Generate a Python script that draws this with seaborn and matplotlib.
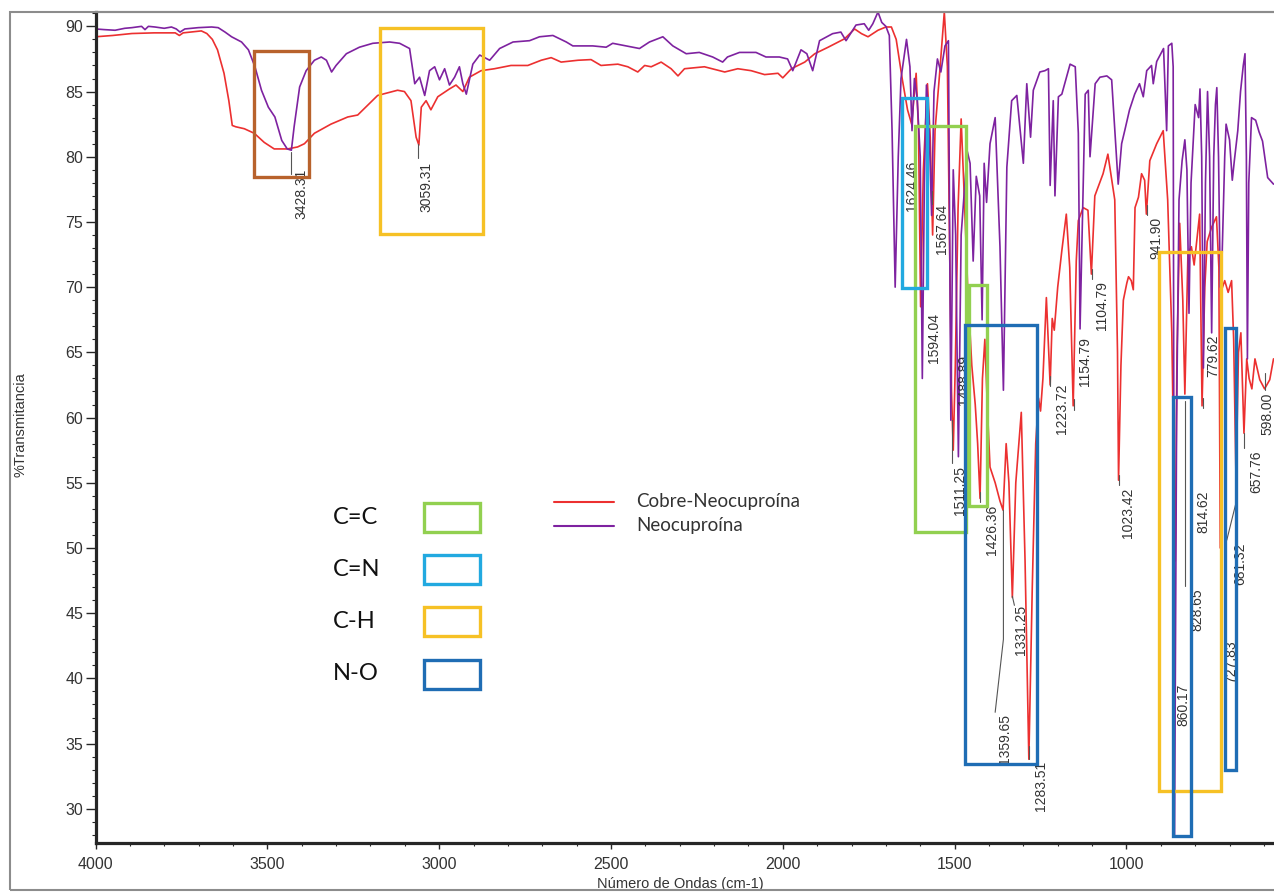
import pandas as pd
import matplotlib
matplotlib.use("Agg")
import matplotlib.pyplot as plt
from matplotlib.patches import Rectangle
from matplotlib.lines import Line2D
from matplotlib.ticker import MultipleLocator
import seaborn as sns

sns.set_theme(style="ticks")
plt.rcParams["font.family"] = ["Liberation Sans", "DejaVu Sans"]

# --- spectra: (wavenumber cm-1, %T) ---
cobre_pts = [
    (4000, 89.2), (3950, 89.3), (3894, 89.45), (3830, 89.5), (3768, 89.5), (3756, 89.3),
    (3745, 89.5), (3692, 89.65), (3676, 89.45), (3660, 89.0), (3645, 88.2), (3626, 86.4),
    (3612, 84.3), (3602, 82.4), (3592, 82.3), (3567, 82.15), (3538, 81.8), (3509, 81.1),
    (3480, 80.6), (3441, 80.6), (3412, 80.75), (3392, 81.0), (3363, 81.8), (3315, 82.5),
    (3266, 83.05), (3237, 83.2), (3179, 84.7), (3121, 85.1), (3101, 85.0), (3082, 84.3),
    (3067, 81.5), (3059, 80.9), (3052, 83.8), (3038, 84.3), (3024, 83.6), (3004, 84.6),
    (2970, 85.2), (2951, 85.5), (2931, 85.0), (2912, 86.1), (2878, 86.6), (2839, 86.75),
    (2791, 87.0), (2742, 87.0), (2703, 87.4), (2674, 87.6), (2645, 87.26), (2596, 87.4),
    (2558, 87.45), (2529, 87.0), (2480, 87.1), (2451, 86.9), (2422, 86.5), (2402, 87.0),
    (2383, 86.9), (2354, 87.26), (2325, 86.75), (2305, 86.2), (2286, 86.75), (2228, 86.9),
    (2169, 86.5), (2131, 86.75), (2092, 86.6), (2053, 86.3), (2014, 86.4), (2000, 86.05),
    (1975, 86.75), (1936, 87.26), (1907, 87.9), (1868, 88.4), (1820, 89.05), (1791, 89.8),
    (1771, 89.44), (1752, 89.2), (1723, 89.7), (1700, 89.95), (1684, 89.95), (1670, 89.0),
    (1652, 85.9), (1637, 83.6), (1625, 82.5), (1612, 86.4), (1605, 82.0), (1599, 68.5),
    (1591, 79.0), (1579, 85.6), (1571, 81.5), (1564, 74.0), (1557, 82.0), (1543, 86.6),
    (1530, 91.1), (1521, 86.9), (1515, 74.0), (1509, 62.0), (1504, 57.5), (1498, 64.0),
    (1490, 76.0), (1481, 82.9), (1472, 77.0), (1462, 70.0), (1450, 64.0), (1440, 61.0),
    (1433, 58.0), (1426, 53.8), (1419, 63.0), (1412, 66.0), (1405, 61.0), (1397, 56.2),
    (1382, 55.0), (1368, 53.6), (1359, 52.9), (1350, 58.0), (1342, 55.0), (1332, 46.2),
    (1322, 55.0), (1306, 60.4), (1295, 49.0), (1284, 33.8), (1274, 47.0), (1264, 58.0),
    (1256, 61.5), (1250, 60.5), (1243, 63.0), (1233, 69.2), (1222, 62.5), (1216, 67.6),
    (1210, 66.7), (1200, 70.0), (1188, 72.8), (1175, 75.6), (1165, 71.5), (1155, 60.9),
    (1146, 72.0), (1140, 75.1), (1126, 76.1), (1112, 75.9), (1102, 71.0), (1092, 77.0),
    (1068, 78.7), (1054, 80.2), (1034, 76.7), (1026, 65.0), (1023, 55.2), (1016, 64.0),
    (1009, 69.0), (999, 70.3), (994, 70.8), (986, 70.5), (980, 69.8), (975, 76.1),
    (965, 76.9), (956, 78.7), (947, 78.2), (942, 75.6), (932, 79.7), (912, 81.0),
    (893, 82.0), (880, 76.7), (868, 66.5), (858, 49.0), (853, 64.8), (845, 74.9),
    (836, 69.0), (830, 61.8), (821, 72.6), (811, 73.1), (803, 71.7), (787, 75.6),
    (780, 60.9), (772, 70.0), (765, 73.5), (752, 74.6), (738, 75.4), (731, 71.5),
    (727, 50.0), (723, 69.8), (714, 70.5), (704, 69.6), (694, 70.5), (688, 66.0),
    (681, 55.0), (674, 65.0), (667, 66.5), (658, 58.8), (650, 64.5), (643, 63.0),
    (635, 62.2), (626, 64.5), (612, 62.9), (598, 62.2), (583, 62.9), (572, 64.5),
]

neo_pts = [
    (4000, 89.8), (3975, 89.75), (3943, 89.7), (3915, 89.85), (3894, 89.9), (3866, 90.0),
    (3856, 89.75), (3846, 90.0), (3827, 89.95), (3800, 89.85), (3779, 89.95), (3765, 89.8),
    (3754, 89.56), (3740, 89.8), (3720, 89.85), (3701, 89.9), (3662, 89.95), (3643, 89.9),
    (3623, 89.56), (3604, 89.2), (3575, 88.8), (3555, 88.2), (3536, 86.9), (3517, 85.1),
    (3497, 83.8), (3478, 83.05), (3458, 81.25), (3442, 80.6), (3430, 80.5), (3422, 82.3),
    (3406, 85.35), (3387, 86.6), (3363, 87.4), (3343, 87.65), (3328, 87.4), (3313, 86.5),
    (3300, 87.0), (3270, 87.9), (3232, 88.4), (3193, 88.7), (3144, 88.8), (3115, 88.7),
    (3086, 88.3), (3071, 85.6), (3057, 86.1), (3042, 84.7), (3028, 86.6), (3013, 86.9),
    (2999, 85.9), (2984, 86.75), (2970, 85.5), (2955, 86.1), (2941, 86.9), (2931, 85.6),
    (2921, 84.8), (2902, 87.1), (2882, 87.8), (2853, 87.4), (2824, 88.3), (2785, 88.8),
    (2737, 88.9), (2708, 89.2), (2669, 89.3), (2630, 88.8), (2611, 88.5), (2553, 88.5),
    (2514, 88.4), (2495, 88.7), (2456, 88.5), (2417, 88.3), (2388, 88.8), (2349, 89.2),
    (2320, 88.5), (2281, 87.9), (2243, 88.0), (2204, 87.65), (2175, 87.26), (2161, 87.65),
    (2126, 88.0), (2078, 88.0), (2049, 87.65), (2010, 87.65), (1986, 87.5), (1971, 86.6),
    (1947, 88.2), (1930, 87.9), (1913, 86.6), (1893, 88.9), (1855, 89.44), (1831, 89.56),
    (1816, 88.9), (1787, 90.1), (1763, 90.2), (1750, 89.7), (1738, 90.2), (1723, 91.1),
    (1712, 90.3), (1700, 90.0), (1690, 89.3), (1682, 82.0), (1673, 70.0), (1664, 80.0),
    (1656, 86.0), (1640, 89.0), (1630, 86.9), (1624, 82.0), (1617, 86.0), (1609, 84.5),
    (1600, 80.0), (1594, 63.0), (1588, 78.0), (1582, 85.5), (1575, 83.0), (1567, 75.5),
    (1560, 85.0), (1550, 87.5), (1540, 86.5), (1528, 88.5), (1518, 88.9), (1511, 59.8),
    (1504, 79.0), (1497, 74.0), (1489, 57.0), (1481, 74.0), (1470, 78.0), (1463, 80.4),
    (1455, 79.5), (1446, 72.0), (1437, 78.5), (1427, 77.0), (1420, 67.5), (1414, 79.5),
    (1407, 76.5), (1397, 81.0), (1382, 83.0), (1368, 73.1), (1358, 62.1), (1348, 79.2),
    (1334, 84.3), (1319, 84.7), (1300, 79.5), (1290, 85.6), (1279, 81.5), (1271, 85.1),
    (1252, 86.5), (1237, 86.6), (1227, 86.75), (1222, 77.8), (1213, 84.3), (1208, 77.0),
    (1198, 84.6), (1188, 84.8), (1164, 87.1), (1149, 86.9), (1140, 81.8), (1135, 66.8),
    (1120, 84.8), (1111, 85.1), (1106, 80.0), (1091, 85.6), (1077, 86.1), (1057, 86.2),
    (1043, 85.9), (1024, 77.9), (1014, 81.0), (1005, 82.0), (991, 83.6), (976, 84.8),
    (962, 85.6), (951, 84.6), (941, 86.6), (927, 87.0), (922, 85.6), (912, 87.3),
    (892, 88.3), (883, 82.0), (878, 88.5), (868, 88.7), (864, 86.9), (860, 27.9),
    (854, 60.0), (847, 76.7), (838, 79.7), (830, 81.3), (824, 79.0), (818, 68.0),
    (812, 78.0), (800, 84.0), (790, 83.0), (786, 85.2), (781, 80.0), (776, 63.8),
    (770, 78.0), (764, 85.0), (758, 80.0), (752, 66.5), (746, 80.0), (741, 84.0),
    (737, 85.3), (732, 80.0), (727, 70.0), (722, 72.0), (714, 80.0), (710, 82.5),
    (700, 81.3), (692, 78.2), (686, 79.7), (676, 82.0), (668, 85.0), (660, 87.0),
    (655, 87.9), (651, 80.0), (648, 64.5), (644, 78.0), (636, 83.0), (624, 82.8),
    (614, 81.9), (604, 81.2), (589, 78.4), (572, 77.9),
]

# peak labels: text, x of text centre, %T of text top
peak_labels = [
    ("3428.31", 3400, 79.1), ("3059.31", 3036, 79.6), ("1624.46", 1625, 79.7),
    ("1567.64", 1538, 76.4), ("1594.04", 1561, 68.0), ("1511.25", 1484, 56.3),
    ("1488.89", 1472, 64.8), ("1426.36", 1392, 53.3), ("1359.65", 1353, 37.3),
    ("1331.25", 1308, 45.6), ("1283.51", 1250, 33.7), ("1223.72", 1188, 62.6),
    ("1154.79", 1120, 66.2), ("1104.79", 1072, 70.5), ("1023.42", 995, 54.6),
    ("941.90", 912, 75.4), ("860.17", 834, 39.6), ("828.65", 794, 46.9),
    ("814.62", 776, 54.4), ("779.62", 747, 66.4), ("727.83", 694, 42.9),
    ("681.32", 670, 50.4), ("657.76", 621, 57.5), ("598.00", 591, 61.9),
]

# leader lines from the peak to its label
leaders = [
    [(3431, 80.4), (3431, 78.7)], [(3062, 81.0), (3062, 79.9)],
    [(1567, 77.4), (1567, 76.4)], [(1508, 59.8), (1508, 56.5)],
    [(1426, 54.3), (1426, 53.5)], [(1358, 52.9), (1358, 43.0), (1382, 37.4)],
    [(1332, 46.3), (1326, 45.6)], [(1283, 34.8), (1283, 33.8)],
    [(1221, 63.2), (1221, 62.4)], [(1154, 61.4), (1154, 60.6)],
    [(1101, 71.4), (1101, 70.6)], [(1023, 55.6), (1023, 54.8)],
    [(941, 76.3), (941, 75.5)], [(830, 61.3), (830, 47.1)],
    [(778, 61.5), (778, 60.7)], [(679, 53.7), (708, 50.6)],
    [(658, 58.8), (658, 57.7)], [(598, 63.4), (598, 62.1)],
]

# highlighted regions: (wn high, wn low, %T bottom, %T top, group)
regions = [
    (3539, 3379, 78.42, 88.08, "O-H"),
    (3172, 2872, 74.1, 89.9, "C-H"),
    (1615, 1467, 51.2, 82.33, "C=C"),
    (1458, 1405, 53.19, 70.14, "C=C"),
    (1653, 1580, 69.9, 84.48, "C=N"),
    (1470, 1260, 33.4, 67.07, "N-O"),
    (905, 725, 31.4, 72.67, "C-H"),
    (864, 812, 27.9, 61.55, "N-O"),
    (713, 681, 32.95, 66.84, "N-O"),
]

group_names = ["C=C", "C=N", "C-H", "N-O"]
group_colors = {"O-H": "#b8622c", "C-H": "#f6c125", "C=C": "#92d050",
                "C=N": "#22a9e0", "N-O": "#1f6db4"}
series_names = ["Cobre-Neocuproína", "Neocuproína"]
RED = "#ec3030"
PURPLE = "#7e22a0"

W, H = 1274, 892
fig = plt.figure(figsize=(W / 100, H / 100), dpi=100)
ax = fig.add_axes([95.5 / W, 1 - 842.7 / H, 1178.5 / W, 830.7 / H])

df_cu = pd.DataFrame(cobre_pts, columns=["wn", "t"])
df_neo = pd.DataFrame(neo_pts, columns=["wn", "t"])
sns.lineplot(data=df_cu, x="wn", y="t", color=RED, lw=1.2, sort=False,
             estimator=None, ax=ax, zorder=2)
sns.lineplot(data=df_neo, x="wn", y="t", color=PURPLE, lw=1.2, sort=False,
             estimator=None, ax=ax, zorder=2.1)

ax.set_xlim(4000, 570.6)
ax.set_ylim(27.4, 91.1)
ax.xaxis.set_major_locator(MultipleLocator(500))
ax.xaxis.set_minor_locator(MultipleLocator(100))
ax.yaxis.set_major_locator(MultipleLocator(5))
ax.yaxis.set_minor_locator(MultipleLocator(1))
ax.tick_params(axis="y", which="major", length=7, width=1, labelsize=11.5,
               labelcolor="#333333", pad=2)
ax.tick_params(axis="y", which="minor", length=3, width=0.8)
ax.tick_params(axis="x", which="major", length=4, width=1, labelsize=11.5,
               labelcolor="#333333", pad=6)
ax.tick_params(axis="x", which="minor", length=2, width=0.8)
ax.spines["left"].set_linewidth(2.3)
ax.spines["bottom"].set_linewidth(2.3)
ax.spines["right"].set_visible(False)
ax.spines["top"].set_color("#8c8c8c")
ax.spines["top"].set_linewidth(1.5)

ax.set_xlabel("Número de Ondas (cm-1)", fontsize=10.5, color="#333333")
ax.set_ylabel("%Transmitancia", fontsize=10.5, color="#333333")
ax.xaxis.set_label_coords(0.496, -0.041)
ax.yaxis.set_label_coords(-0.058, 0.503)

for s, x, y in peak_labels:
    ax.text(x, y, s, rotation=90, ha="center", va="top", fontsize=10,
            color="#333333", clip_on=True, zorder=3)
for seg in leaders:
    xs, ys = zip(*seg)
    ax.plot(xs, ys, color="#555555", lw=0.8, zorder=2.5)

for hi, lo, bot, top, grp in regions:
    ax.add_patch(Rectangle((lo, bot), hi - lo, top - bot, fill=False,
                           ec=group_colors[grp], lw=2.4, zorder=4))

# outer grey frame
fig.add_artist(Rectangle((10 / W, 1 - 890 / H), 1.0, (890 - 12) / H, fill=False,
                         ec="#8c8c8c", lw=1.5, transform=fig.transFigure))

# legend of regions
row_y = [517, 569, 621, 674]
for name, y in zip(group_names, row_y):
    fig.text(333 / W, 1 - y / H, name, fontsize=17, family="Lato",
             va="center", ha="left", color="#111111")
    fig.add_artist(Rectangle((424 / W, 1 - (y + 15) / H), 56 / W, 29 / H,
                             fill=False, ec=group_colors[name], lw=2.4,
                             transform=fig.transFigure))

# legend of series
for name, col, y in zip(series_names, [RED, PURPLE], [502, 526]):
    fig.add_artist(Line2D([554 / W, 614 / W], [1 - y / H, 1 - y / H], color=col,
                          lw=1.5, transform=fig.transFigure))
    fig.text(636 / W, 1 - y / H, name, fontsize=13.5, family="Lato",
             va="center", ha="left", color="#333333")

fig.savefig("out.png", dpi=100)
